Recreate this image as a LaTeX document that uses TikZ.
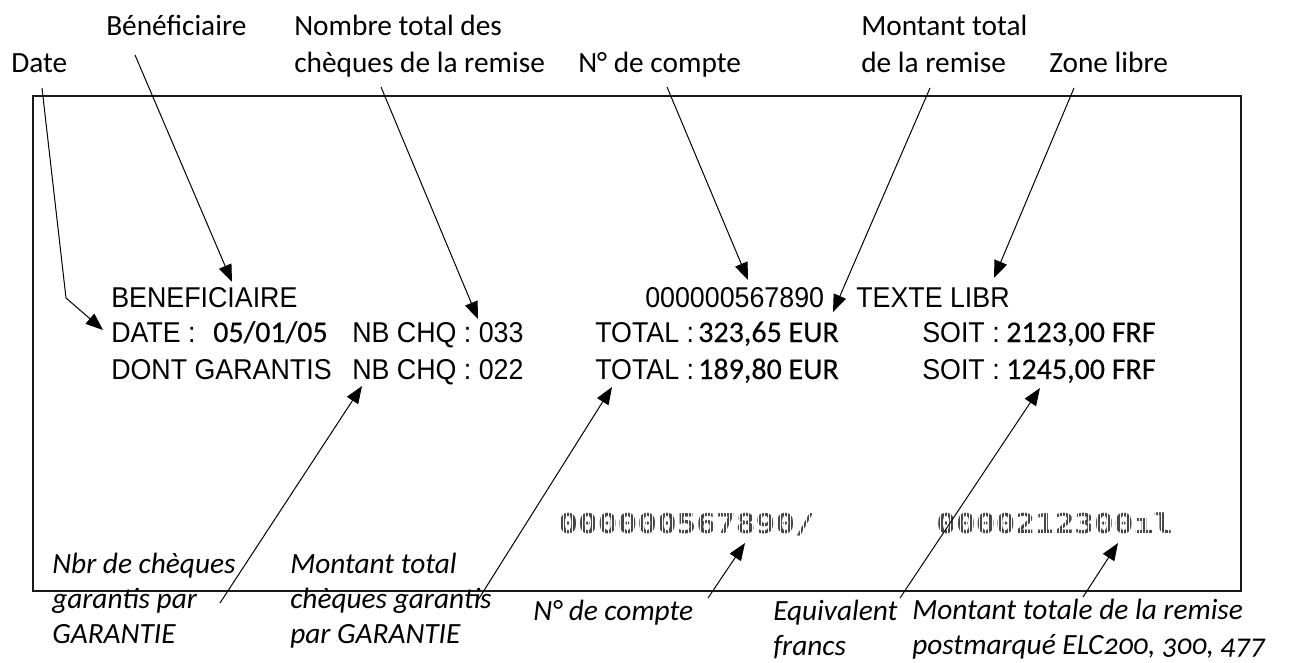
\documentclass[tikz,border=0pt]{standalone}
\usepackage{fontspec}
\setmainfont{Carlito}
\newfontfamily\fieldfamily[FakeStretch=0.935]{Liberation Sans}
\newfontfamily\amountfamily[FakeBold=0.4]{Carlito}
\newfontfamily\micrfamily[FakeStretch=1.2]{DejaVu Sans Mono}
\newfontfamily\oldnumfamily[Numbers=OldStyle]{Carlito}
\usetikzlibrary{arrows.meta,patterns.meta,calc}

\newcommand\notefont{\fontsize{22}{27.75}\selectfont}
\newcommand\inotefont{\fontsize{22}{26.25}\selectfont\itshape}
\newcommand\fieldfnt{\fieldfamily\fontsize{21.5}{26}\selectfont}
\newcommand\amountfnt{\amountfamily\fontsize{22.5}{26}\selectfont}
\newcommand\micrfnt{\micrfamily\bfseries\fontsize{20.5}{26}\selectfont}

\begin{document}
\begin{tikzpicture}[x=0.75pt,y=-0.75pt,
  note/.style={anchor=base west, inner sep=0pt, align=left, font=\notefont},
  inote/.style={note, font=\inotefont},
  field/.style={anchor=base west, inner sep=0pt, font=\fieldfnt},
  amount/.style={anchor=base west, inner sep=0pt, font=\amountfnt},
  micr/.style={anchor=base west, inner sep=0pt, font=\micrfnt, text=black!72},
  stripes/.style={pattern={Lines[angle=90,distance=2.4pt,line width=0.65pt]}, pattern color=white},
  arr/.style={line width=0.75pt, -{Triangle[length=13pt,width=10pt]}},
  slip/.style={line width=1.6pt, draw=black!90}
]
\useasboundingbox (0,0) rectangle (1295,662);

% the remittance slip
\draw[slip] (33,96) rectangle (1241,591);

% printed fields
\node[field] (fBenef) at (111,307) {BENEFICIAIRE};
\node[field] (fCompte) at (645,307) {000000567890};
\node[field] (fLibre) at (856,307) {TEXTE LIBR};

\node[field] (fDate) at (111,342) {DATE :};
\node[amount] (vDate) at (213,342) {05/01/05};
\node[field] (fNb1) at (352,342) {NB CHQ : 033};
\node[field] (fTot1) at (595,342) {TOTAL :};
\node[amount] (vTot1) at (698,342) {323,65 EUR};
\node[field] (fSoit1) at (922,342) {SOIT :};
\node[amount] (vSoit1) at (1006,342) {2123,00 FRF};

\node[field] (fGar) at (111,379) {DONT GARANTIS};
\node[field] (fNb2) at (352,379) {NB CHQ : 022};
\node[field] (fTot2) at (595,379) {TOTAL :};
\node[amount] (vTot2) at (698,379) {189,80 EUR};
\node[field] (fSoit2) at (922,379) {SOIT :};
\node[amount] (vSoit2) at (1006,379) {1245,00 FRF};

% CMC-7 style coded lines
\node[micr] (mc1) at (558,533) {000000567890/};
\node[micr] (mc2) at (936,533) {0000212300ıl};
\fill[stripes] (mc1.south west) rectangle (mc1.north east);
\fill[stripes] (mc2.south west) rectangle (mc2.north east);

% labels above the slip (placed on the baseline of their last line)
\node[note] (lDate) at (11,72) {Date};
\node[note] (lBenef) at (106,35) {Bénéficiaire};
\node[note] (lNombre) at (294,72) {Nombre total des\\chèques de la remise};
\node[note] (lCompte) at (578,72) {N° de compte};
\node[note] (lMontant) at (861,72) {Montant total\\de la remise};
\node[note] (lZone) at (1049,72) {Zone libre};

% labels below
\node[inote] (lNbr) at (52,643) {Nbr de chèques\\garantis par\\GARANTIE};
\node[inote] (lMontGar) at (290,643) {Montant total\\chèques garantis\\par GARANTIE};
\node[inote] (lCompte2) at (533,620) {N° de compte};
\node[inote] (lEquiv) at (773,655) {Equivalent\\francs};
\node[inote] (lTotale) at (912,654) {Montant totale de la remise\\postmarqué ELC{\oldnumfamily\itshape 200, 300, 477}};

% leader start points and arrow targets
\coordinate (sDate) at (42,88);
\coordinate (kDate) at (66,298);
\coordinate (tDate) at (103,330);
\coordinate (sBenef) at (135,55);
\coordinate (tBenef) at (232,282);
\coordinate (sNombre) at (381,87);
\coordinate (tNombre) at (478,319);
\coordinate (sCompte) at (667,87);
\coordinate (tCompte) at (748,280);
\coordinate (sMontant) at (930,88);
\coordinate (tMontant) at (833,312);
\coordinate (sZone) at (1074,88);
\coordinate (tZone) at (994,278);
\coordinate (sNbr) at (220,603);
\coordinate (tNbr) at (362,386);
\coordinate (sMontGar) at (478,600);
\coordinate (tMontGar) at (612,387);
\coordinate (sCompte2) at (708,598);
\coordinate (tCompte2) at (745,543);
\coordinate (sEquiv) at (900,598);
\coordinate (tEquiv) at (1040,388);
\coordinate (sTotale) at (1083,597);
\coordinate (tTotale) at (1118,543);

% leaders
\draw[arr] (sDate) -- (kDate) -- (tDate);
\draw[arr] (sBenef) -- (tBenef);
\draw[arr] (sNombre) -- (tNombre);
\draw[arr] (sCompte) -- (tCompte);
\draw[arr] (sMontant) -- (tMontant);
\draw[arr] (sZone) -- (tZone);
\draw[arr] (sNbr) -- (tNbr);
\draw[arr] (sMontGar) -- (tMontGar);
\draw[arr] (sCompte2) -- (tCompte2);
\draw[arr] (sEquiv) -- (tEquiv);
\draw[arr] (sTotale) -- (tTotale);
\end{tikzpicture}
\end{document}
